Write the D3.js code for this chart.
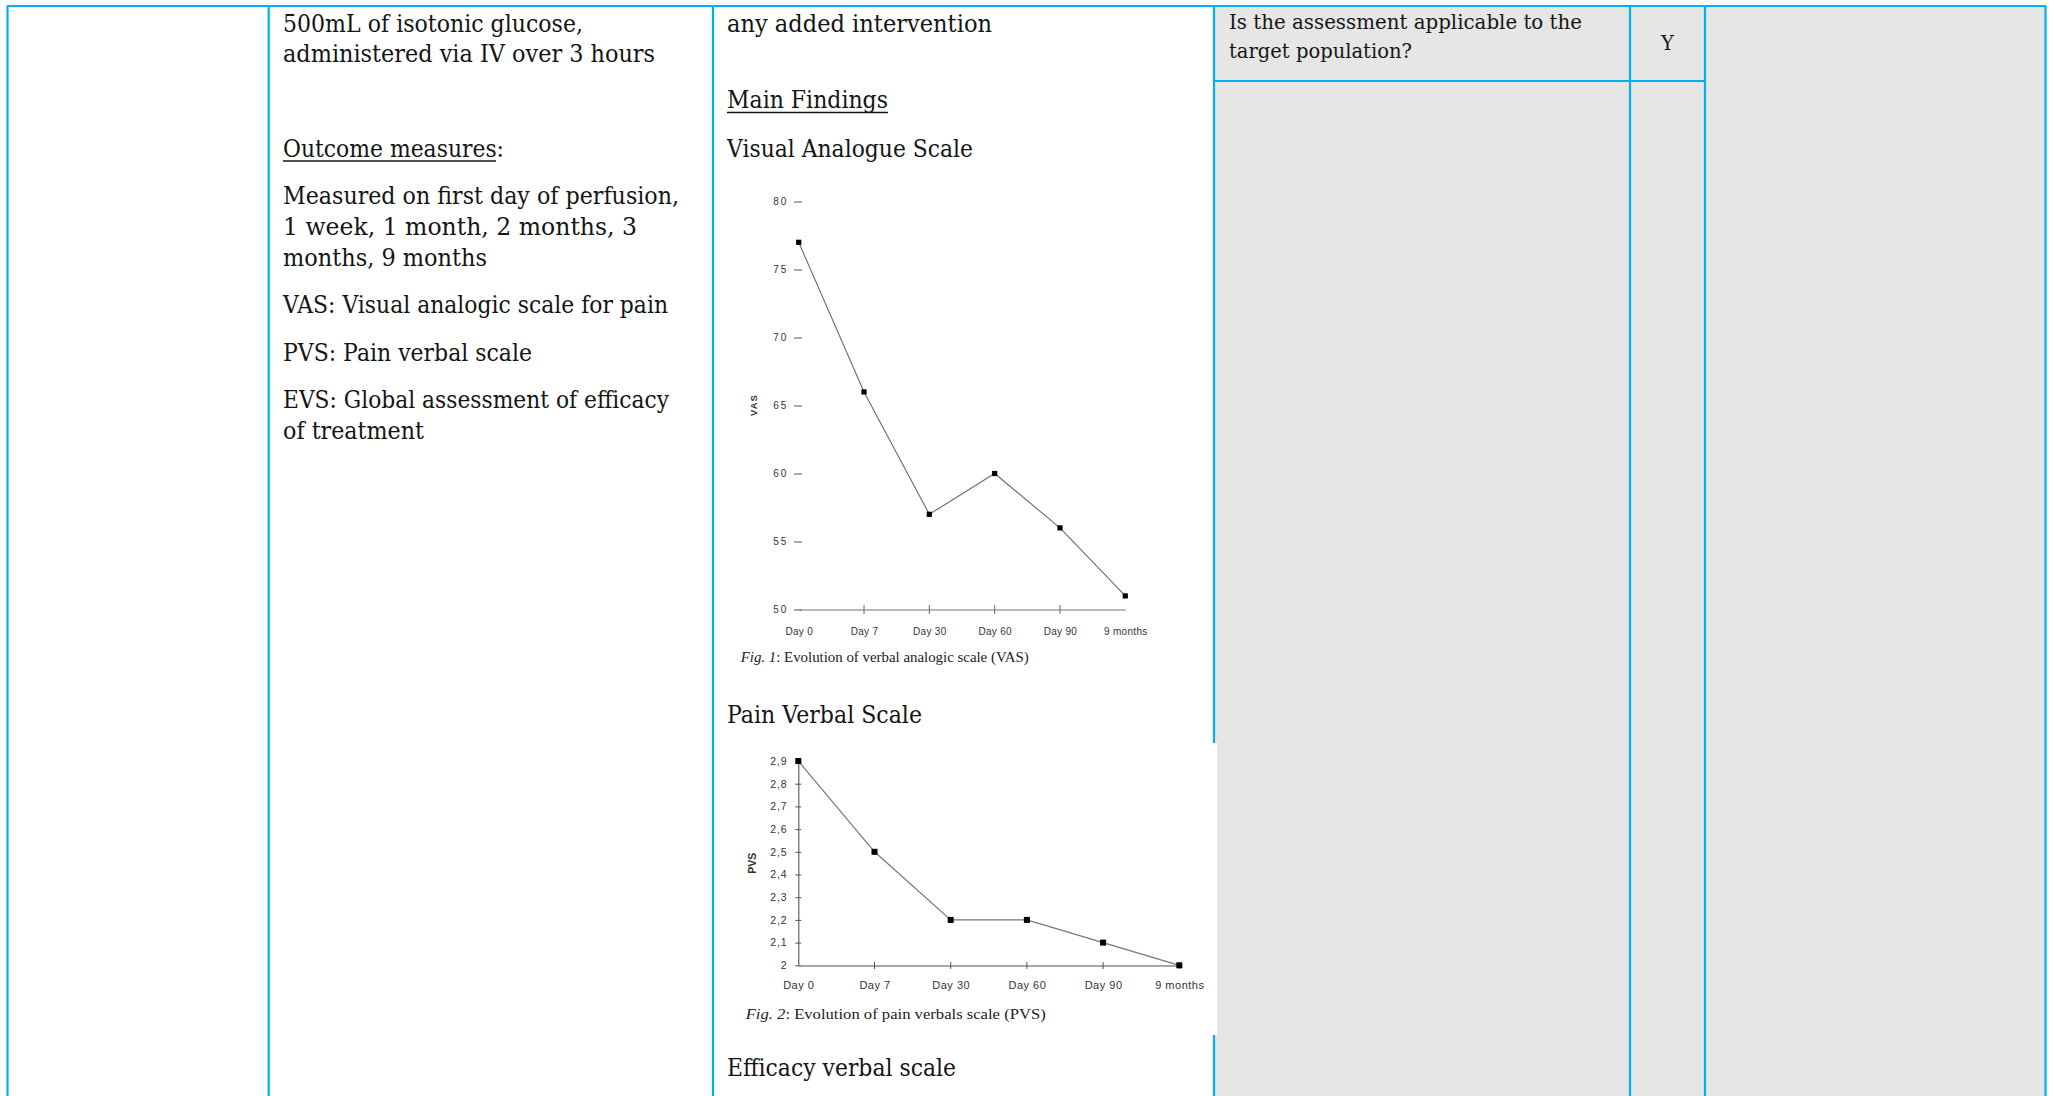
<!DOCTYPE html>
<html><head><meta charset="utf-8">
<script src="https://cdn.jsdelivr.net/npm/d3@7"></script>
<style>
html,body{margin:0;padding:0;background:#fff;overflow:hidden;}
svg{display:block;}
</style></head>
<body>
<svg id="page" width="2054" height="1096"></svg>
<script>
// ---------- chart data ----------
const categories = ["Day 0", "Day 7", "Day 30", "Day 60", "Day 90", "9 months"];
const vasValues = [77, 66, 57, 60, 56, 51];
const pvsValues = [2.9, 2.5, 2.2, 2.2, 2.1, 2.0];
const vasTicks = [50, 55, 60, 65, 70, 75, 80];
const vasTickLabels = ["50", "55", "60", "65", "70", "75", "80"];
const pvsTicks = [2.0, 2.1, 2.2, 2.3, 2.4, 2.5, 2.6, 2.7, 2.8, 2.9];
const pvsTickLabels = ["2", "2,1", "2,2", "2,3", "2,4", "2,5", "2,6", "2,7", "2,8", "2,9"];
const vasAxisTitle = "VAS";
const pvsAxisTitle = "PVS";
const vasCaption = ["Fig. 1", ": Evolution of verbal analogic scale (VAS)"];
const pvsCaption = ["Fig. 2", ": Evolution of pain verbals scale (PVS)"];

// ---------- document text ----------
const interventionLines = ["500mL of isotonic glucose,", "administered via IV over 3 hours"];
const outcomeHeading = "Outcome measures:";
const outcomeLines = [
  "Measured on first day of perfusion,",
  "1 week, 1 month, 2 months, 3",
  "months, 9 months",
  "VAS: Visual analogic scale for pain",
  "PVS: Pain verbal scale",
  "EVS: Global assessment of efficacy",
  "of treatment"
];
const comparatorLine = "any added intervention";
const findingsHeading = "Main Findings";
const sectionTitles = ["Visual Analogue Scale", "Pain Verbal Scale", "Efficacy verbal scale"];
const questionLines = ["Is the assessment applicable to the", "target population?"];
const answer = "Y";

// ---------- layout ----------
const svg = d3.select("#page");
const BLUE = "#00b0f0";
const SERIF = "'DejaVu Serif', serif";
const TIMES = "'Liberation Serif', 'Times New Roman', serif";
const SANS = "'Liberation Sans', Arial, sans-serif";

svg.append("rect").attr("width", 2054).attr("height", 1096).attr("fill", "#fff");
svg.append("rect").attr("x", 1214).attr("y", 6).attr("width", 832).attr("height", 1090).attr("fill", "#e6e6e6");

// table rules
const rules = [
  [7, 6, 2046, 6],
  [7.5, 6, 7.5, 1096],
  [268.7, 6, 268.7, 1096],
  [713, 6, 713, 1096],
  [1214, 6, 1214, 1096],
  [1630, 6, 1630, 1096],
  [1705, 6, 1705, 1096],
  [2045.5, 6, 2045.5, 1096],
  [1214, 81, 1705, 81]
];
svg.append("g").selectAll("line").data(rules).join("line")
  .attr("x1", d => d[0]).attr("y1", d => d[1]).attr("x2", d => d[2]).attr("y2", d => d[3])
  .attr("stroke", BLUE).attr("stroke-width", 2.2);

// pasted PVS picture background (covers the rule)
svg.append("rect").attr("x", 727).attr("y", 743).attr("width", 490).attr("height", 292).attr("fill", "#fff");

// ---------- text helpers ----------
function textLine(g, str, x, y, w, size, family, opts = {}) {
  const t = g.append("text").attr("x", x).attr("y", y)
    .attr("font-family", family).attr("font-size", size).attr("fill", opts.fill || "#151515")
    .text(str);
  if (w) t.attr("textLength", w).attr("lengthAdjust", "spacingAndGlyphs");
  if (opts.anchor) t.attr("text-anchor", opts.anchor);
  return t;
}
const tg = svg.append("g");

// column 2
const intY = [32, 62], intW = [300, 372];
interventionLines.forEach((s, i) => textLine(tg, s, 283, intY[i], intW[i], 24, SERIF));
textLine(tg, outcomeHeading, 283, 157, 221, 24, SERIF);
tg.append("line").attr("x1", 283).attr("x2", 496).attr("y1", 161).attr("y2", 161).attr("stroke", "#151515").attr("stroke-width", 1.5);
const outY = [204, 235, 266, 313, 361, 408, 439], outW = [396, 354, 204, 385, 249, 386, 141];
outcomeLines.forEach((s, i) => textLine(tg, s, 283, outY[i], outW[i], 24, SERIF));

// column 3
textLine(tg, comparatorLine, 727, 32, 265, 24, SERIF);
textLine(tg, findingsHeading, 727, 108, 161, 24, SERIF);
tg.append("line").attr("x1", 727).attr("x2", 888).attr("y1", 112.5).attr("y2", 112.5).attr("stroke", "#151515").attr("stroke-width", 1.5);
const secY = [157, 723, 1076], secW = [246, 195, 229];
sectionTitles.forEach((s, i) => textLine(tg, s, 727, secY[i], secW[i], 24, SERIF));

// column 4/5
const qY = [29, 58], qW = [353, 183];
questionLines.forEach((s, i) => textLine(tg, s, 1229, qY[i], qW[i], 19.5, SERIF));
textLine(tg, answer, 1667.5, 50, null, 19.5, SERIF, { anchor: "middle" });

// ---------- VAS chart ----------
const vasX = d3.scalePoint().domain(categories).range([798.7, 1125.3]);
const vasY = d3.scaleLinear().domain([50, 80]).range([609.5, 201.5]);
const vg = svg.append("g");

const vYAxis = vg.append("g").attr("transform", "translate(802,0)")
  .call(d3.axisLeft(vasY).tickValues(vasTicks).tickSize(8).tickPadding(6)
    .tickFormat((d, i) => vasTickLabels[i]));
vYAxis.select(".domain").remove();
vYAxis.selectAll(".tick line").attr("stroke", "#555").attr("stroke-width", 1);
vYAxis.selectAll(".tick text").attr("font-family", SANS).attr("font-size", 10)
  .attr("letter-spacing", 1.8).attr("fill", "#333");

const vXAxis = vg.append("g").attr("transform", "translate(0,609.5)")
  .call(d3.axisBottom(vasX).tickSize(0).tickSizeOuter(0).tickPadding(18));
vXAxis.select(".domain").attr("stroke", "#777").attr("stroke-width", 1);
vXAxis.selectAll(".tick text").attr("font-family", SANS).attr("font-size", 10)
  .attr("letter-spacing", 0.3).attr("fill", "#333");
vg.append("g").selectAll("line").data(categories.slice(1, 5)).join("line")
  .attr("x1", d => vasX(d)).attr("x2", d => vasX(d)).attr("y1", 605).attr("y2", 614)
  .attr("stroke", "#666").attr("stroke-width", 1);

vg.append("text").attr("transform", "translate(753,405) rotate(-90)")
  .attr("text-anchor", "middle").attr("dominant-baseline", "central")
  .attr("font-family", SANS).attr("font-weight", "bold").attr("font-size", 9.5)
  .attr("letter-spacing", 1).attr("fill", "#333").text(vasAxisTitle);

vg.append("path").datum(vasValues)
  .attr("d", d3.line().x((d, i) => vasX(categories[i])).y(d => vasY(d)))
  .attr("fill", "none").attr("stroke", "#6a6a6a").attr("stroke-width", 1.1);
vg.append("g").selectAll("rect").data(vasValues).join("rect")
  .attr("x", (d, i) => vasX(categories[i]) - 2.6).attr("y", d => vasY(d) - 2.6)
  .attr("width", 5.2).attr("height", 5.2).attr("fill", "#000");

const vc = vg.append("text").attr("x", 740.7).attr("y", 661.7).attr("font-family", TIMES)
  .attr("font-size", 14).attr("fill", "#222").attr("textLength", 288).attr("lengthAdjust", "spacingAndGlyphs");
vc.append("tspan").attr("font-style", "italic").text(vasCaption[0]);
vc.append("tspan").text(vasCaption[1]);

// ---------- PVS chart ----------
const pvsX = d3.scalePoint().domain(categories).range([798.3, 1179.3]);
const pvsY = d3.scaleLinear().domain([2.0, 2.9]).range([965.3, 761]);
const pg = svg.append("g");

const pYAxis = pg.append("g").attr("transform", "translate(798.3,0)")
  .call(d3.axisLeft(pvsY).tickValues(pvsTicks).tickSize(3).tickSizeOuter(0).tickPadding(8)
    .tickFormat((d, i) => pvsTickLabels[i]));
pYAxis.select(".domain").attr("stroke", "#555").attr("stroke-width", 1.1);
pYAxis.selectAll(".tick line").attr("x1", 3).attr("stroke", "#555");
pYAxis.selectAll(".tick text").attr("font-family", SANS).attr("font-size", 10.5)
  .attr("letter-spacing", 0.8).attr("fill", "#333");

const pXAxis = pg.append("g").attr("transform", "translate(0,965.5)")
  .call(d3.axisBottom(pvsX).tickSize(0).tickSizeOuter(0).tickPadding(15.5));
pXAxis.select(".domain").attr("stroke", "#888").attr("stroke-width", 1.3);
pXAxis.selectAll(".tick text").attr("font-family", SANS).attr("font-size", 11)
  .attr("letter-spacing", 0.5).attr("fill", "#333");
pg.append("g").selectAll("line").data(categories.slice(1)).join("line")
  .attr("x1", d => pvsX(d)).attr("x2", d => pvsX(d)).attr("y1", 962).attr("y2", 969)
  .attr("stroke", "#555").attr("stroke-width", 1);

pg.append("text").attr("transform", "translate(752.3,863.3) rotate(-90)")
  .attr("text-anchor", "middle").attr("dominant-baseline", "central")
  .attr("font-family", SANS).attr("font-weight", "bold").attr("font-size", 10.5)
  .attr("fill", "#333").text(pvsAxisTitle);

pg.append("path").datum(pvsValues)
  .attr("d", d3.line().x((d, i) => pvsX(categories[i])).y(d => pvsY(d)))
  .attr("fill", "none").attr("stroke", "#777").attr("stroke-width", 1.2);
pg.append("g").selectAll("rect").data(pvsValues).join("rect")
  .attr("x", (d, i) => pvsX(categories[i]) - 3).attr("y", d => pvsY(d) - 3)
  .attr("width", 6).attr("height", 6).attr("fill", "#000");

const pc = pg.append("text").attr("x", 745.7).attr("y", 1019.3).attr("font-family", TIMES)
  .attr("font-size", 14.5).attr("fill", "#222").attr("textLength", 300).attr("lengthAdjust", "spacingAndGlyphs");
pc.append("tspan").attr("font-style", "italic").text(pvsCaption[0]);
pc.append("tspan").text(pvsCaption[1]);
</script>
</body></html>
